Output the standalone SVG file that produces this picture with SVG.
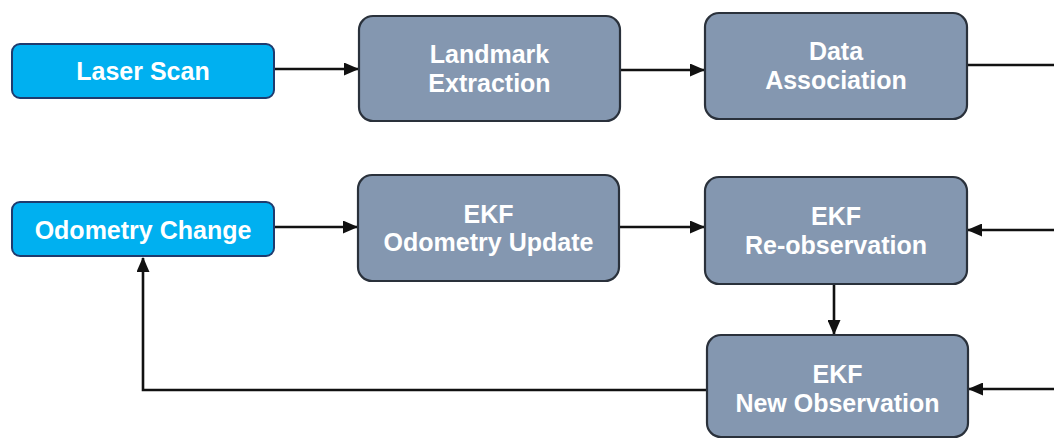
<svg xmlns="http://www.w3.org/2000/svg" width="1054" height="439" viewBox="0 0 1054 439">
  <style>
    .src { fill: #00B0F0; stroke: #1F3B6E; stroke-width: 2; }
    .proc { fill: #8497B0; stroke: #2A313B; stroke-width: 2.2; }
    .lbl { font-family: "Liberation Sans", Arial, sans-serif; font-weight: bold; font-size: 25px; fill: #FFFFFF; text-anchor: middle; }
    .wire { fill: none; stroke: #111111; stroke-width: 2.6; }
  </style>
  <defs>
    <marker id="arrow" markerUnits="userSpaceOnUse" markerWidth="15" markerHeight="13" refX="14" refY="6.5" orient="auto">
      <path d="M0,0 L15,6.5 L0,13 z" fill="#111111"/>
    </marker>
  </defs>

  <g id="connectors">
    <line class="wire" x1="274" y1="69" x2="358" y2="69" marker-end="url(#arrow)"/>
    <line class="wire" x1="620" y1="70" x2="704" y2="70" marker-end="url(#arrow)"/>
    <line class="wire" x1="967" y1="65" x2="1054" y2="65"/>
    <line class="wire" x1="274" y1="227" x2="357" y2="227" marker-end="url(#arrow)"/>
    <line class="wire" x1="619" y1="227" x2="704" y2="227" marker-end="url(#arrow)"/>
    <line class="wire" x1="1054" y1="230" x2="968" y2="230" marker-end="url(#arrow)"/>
    <line class="wire" x1="834" y1="284" x2="834" y2="334" marker-end="url(#arrow)"/>
    <line class="wire" x1="1054" y1="389" x2="969" y2="389" marker-end="url(#arrow)"/>
    <polyline class="wire" points="707,390 143,390 143,258" marker-end="url(#arrow)"/>
  </g>

  <g id="laser-scan">
    <rect class="src" x="12" y="44" width="262" height="54" rx="8"/>
    <text class="lbl" x="143" y="80">Laser Scan</text>
  </g>

  <g id="landmark-extraction">
    <rect class="proc" x="359" y="16" width="261" height="105" rx="14"/>
    <text class="lbl" x="489.5" y="63">Landmark</text>
    <text class="lbl" x="489.5" y="92">Extraction</text>
  </g>

  <g id="data-association">
    <rect class="proc" x="705" y="13" width="262" height="106" rx="14"/>
    <text class="lbl" x="836" y="60">Data</text>
    <text class="lbl" x="836" y="89">Association</text>
  </g>

  <g id="odometry-change">
    <rect class="src" x="12" y="202" width="262" height="54" rx="8"/>
    <text class="lbl" x="143" y="238.5">Odometry Change</text>
  </g>

  <g id="ekf-odometry-update">
    <rect class="proc" x="358" y="175" width="261" height="106" rx="14"/>
    <text class="lbl" x="488.5" y="223">EKF</text>
    <text class="lbl" x="488.5" y="251">Odometry Update</text>
  </g>

  <g id="ekf-re-observation">
    <rect class="proc" x="705" y="177" width="262" height="107" rx="14"/>
    <text class="lbl" x="836" y="225">EKF</text>
    <text class="lbl" x="836" y="254">Re-observation</text>
  </g>

  <g id="ekf-new-observation">
    <rect class="proc" x="707" y="335" width="261" height="102" rx="14"/>
    <text class="lbl" x="837.5" y="383">EKF</text>
    <text class="lbl" x="837.5" y="412">New Observation</text>
  </g>
</svg>
